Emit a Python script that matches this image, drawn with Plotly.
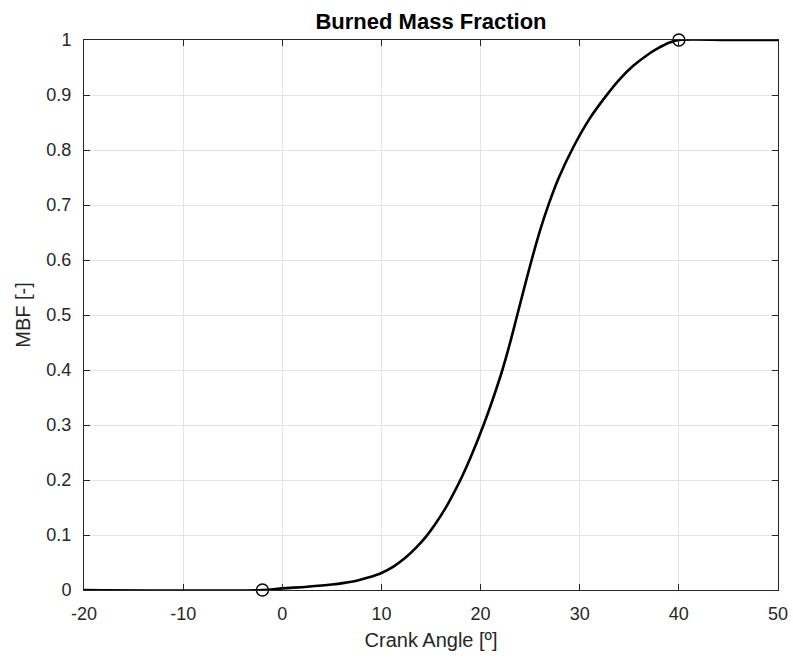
import plotly.graph_objects as go

crank_angle = [-20, -2, 0, 2.5, 5, 6.25, 7.5, 8.75, 10, 11.25, 12.5, 13.5, 14.5, 15.4, 16.4,
               17.2, 18.1, 19.2, 20.3, 21.2, 22.2, 23.0, 23.7, 24.4, 25.15, 26.0, 26.9, 27.9,
               29.35, 31.0, 32.6, 34.0, 35.4, 37.0, 38.0, 39.0, 40, 45, 50]
mbf = [0, 0, 0.003, 0.006, 0.010, 0.013, 0.017, 0.023, 0.031, 0.043, 0.060, 0.077, 0.097,
       0.119, 0.147, 0.173, 0.205, 0.250, 0.300, 0.345, 0.400, 0.451, 0.500, 0.549, 0.600,
       0.654, 0.703, 0.750, 0.805, 0.857, 0.897, 0.928, 0.953, 0.975, 0.986, 0.995, 1.0,
       1.0, 1.0]

marker_angle = [-2, 40]
marker_mbf = [0, 1]

x_ticks = [-20, -10, 0, 10, 20, 30, 40, 50]
x_tick_text = ["-20", "-10", "0", "10", "20", "30", "40", "50"]
y_ticks = [0, 0.1, 0.2, 0.3, 0.4, 0.5, 0.6, 0.7, 0.8, 0.9, 1]
y_tick_text = ["0", "0.1", "0.2", "0.3", "0.4", "0.5", "0.6", "0.7", "0.8", "0.9", "1"]

FONT = "Liberation Sans, Arial, Helvetica, sans-serif"
TXT = "#262626"

fig = go.Figure()
fig.add_trace(go.Scatter(x=crank_angle, y=mbf, mode="lines",
                         line=dict(color="black", width=2.6, shape="spline", smoothing=0.9),
                         showlegend=False, cliponaxis=True))
fig.add_trace(go.Scatter(x=marker_angle, y=marker_mbf, mode="markers",
                         marker=dict(symbol="circle-open", size=12, color="black",
                                     line=dict(width=1.4, color="black")),
                         showlegend=False, cliponaxis=False))

axis_common = dict(showline=True, linecolor=TXT, linewidth=1, mirror="ticks",
                   ticks="inside", ticklen=6, tickcolor=TXT, automargin=False,
                   showgrid=True, gridcolor="#e3e3e3", gridwidth=1, zeroline=False,
                   tickfont=dict(family=FONT, size=18, color=TXT))

fig.update_layout(
    width=793, height=661,
    margin=dict(l=84, r=15, t=40, b=71),
    paper_bgcolor="white", plot_bgcolor="white",
    title=dict(text="<b>Burned Mass Fraction</b>", x=0.5, xanchor="center",
               xref="paper", y=1, yref="paper", yanchor="bottom", pad=dict(b=11),
               font=dict(family=FONT, size=22, color="black")),
    xaxis=dict(range=[-20, 50], tickvals=x_ticks, ticktext=x_tick_text, ticklabelstandoff=7,
               title=dict(text="Crank Angle [º]", standoff=10,
                          font=dict(family=FONT, size=20, color=TXT)),
               **axis_common),
    yaxis=dict(range=[0, 1], tickvals=y_ticks, ticktext=y_tick_text, ticklabelstandoff=8,
               title=dict(text="MBF [-]", standoff=10,
                          font=dict(family=FONT, size=20, color=TXT)),
               **axis_common),
)

fig.write_html("out.html")
